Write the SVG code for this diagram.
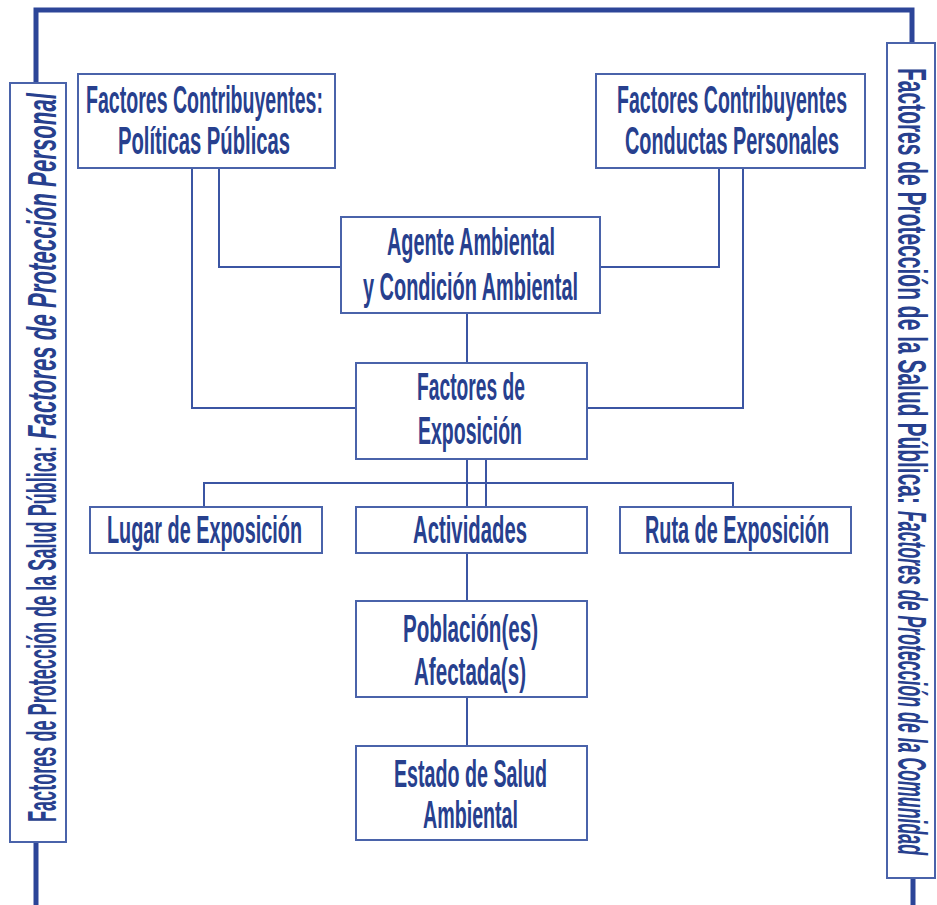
<svg xmlns="http://www.w3.org/2000/svg" width="937" height="905" viewBox="0 0 937 905">
<style>
.box{fill:#fff;stroke:#4a63aa;stroke-width:2}
.t{font-family:"Liberation Sans",Arial,sans-serif;font-weight:bold;font-size:38px;fill:#27408e}
.s{font-family:"Liberation Sans",Arial,sans-serif;font-weight:bold;font-size:41px;fill:#27408e}
.i{font-style:italic}
.c{fill:none;stroke:#3b55a3;stroke-width:2}
.frame{fill:none;stroke:#2c4598;stroke-width:5}
</style>
<rect width="937" height="905" fill="#fff"/>
<g id="frame">
<path class="frame" d="M36,83 V10 H912 V43"/>
<path class="frame" d="M36,842 V905"/>
<path class="frame" d="M913,878 V905"/>
</g>
<g id="connectors">
<path class="c" d="M192,168 V408 H356"/>
<path class="c" d="M219,168 V267 H341"/>
<path class="c" d="M719,168 V267 H600"/>
<path class="c" d="M743,168 V408 H587"/>
<path class="c" d="M467,313 V363"/>
<path class="c" d="M467,459 V507"/>
<path class="c" d="M486,459 V507"/>
<path class="c" d="M204,507 V483 H733 V507"/>
<path class="c" d="M467,553 V601"/>
<path class="c" d="M467,697 V746"/>
</g>
<g id="left-label">
<rect class="box" x="10" y="83" width="56" height="759"/>
<g transform="translate(56,822) rotate(-90)">
<text class="s" x="0" y="0" textLength="376" lengthAdjust="spacingAndGlyphs">Factores de Protección de la Salud Pública:</text>
<text class="s i" x="383" y="0" textLength="346" lengthAdjust="spacingAndGlyphs">Factores de Protección Personal</text>
</g>
</g>
<g id="right-label">
<rect class="box" x="887" y="43" width="48" height="835"/>
<g transform="translate(898,68) rotate(90)">
<text class="s" x="0" y="0" textLength="436" lengthAdjust="spacingAndGlyphs">Factores de Protección de la Salud Pública:</text>
<text class="s i" x="443" y="0" textLength="344" lengthAdjust="spacingAndGlyphs">Factores de Protección de la Comunidad</text>
</g>
</g>
<g id="politicas">
<rect class="box" x="78" y="74" width="257" height="94"/>
<text class="t" x="86" y="113" textLength="237" lengthAdjust="spacingAndGlyphs">Factores Contribuyentes:</text>
<text class="t" x="118" y="154" textLength="172" lengthAdjust="spacingAndGlyphs">Políticas Públicas</text>
</g>
<g id="conductas">
<rect class="box" x="596" y="74" width="269" height="94"/>
<text class="t" x="617" y="113" textLength="230" lengthAdjust="spacingAndGlyphs">Factores Contribuyentes</text>
<text class="t" x="625" y="154" textLength="214" lengthAdjust="spacingAndGlyphs">Conductas Personales</text>
</g>
<g id="agente">
<rect class="box" x="341" y="217" width="259" height="96"/>
<text class="t" x="387" y="255" textLength="168" lengthAdjust="spacingAndGlyphs">Agente Ambiental</text>
<text class="t" x="363" y="300" textLength="215" lengthAdjust="spacingAndGlyphs">y Condición Ambiental</text>
</g>
<g id="exposicion">
<rect class="box" x="356" y="363" width="231" height="96"/>
<text class="t" x="417" y="400" textLength="108" lengthAdjust="spacingAndGlyphs">Factores de</text>
<text class="t" x="418" y="444" textLength="104" lengthAdjust="spacingAndGlyphs">Exposición</text>
</g>
<g id="lugar">
<rect class="box" x="90" y="507" width="232" height="46"/>
<text class="t" x="107" y="543" textLength="195" lengthAdjust="spacingAndGlyphs">Lugar de Exposición</text>
</g>
<g id="actividades">
<rect class="box" x="356" y="507" width="231" height="46"/>
<text class="t" x="413" y="543" textLength="114" lengthAdjust="spacingAndGlyphs">Actividades</text>
</g>
<g id="ruta">
<rect class="box" x="620" y="507" width="231" height="46"/>
<text class="t" x="645" y="543" textLength="184" lengthAdjust="spacingAndGlyphs">Ruta de Exposición</text>
</g>
<g id="poblacion">
<rect class="box" x="356" y="601" width="231" height="96"/>
<text class="t" x="403" y="642" textLength="135" lengthAdjust="spacingAndGlyphs">Población(es)</text>
<text class="t" x="414" y="685" textLength="112" lengthAdjust="spacingAndGlyphs">Afectada(s)</text>
</g>
<g id="estado">
<rect class="box" x="356" y="746" width="231" height="94"/>
<text class="t" x="394" y="787" textLength="153" lengthAdjust="spacingAndGlyphs">Estado de Salud</text>
<text class="t" x="423" y="828" textLength="95" lengthAdjust="spacingAndGlyphs">Ambiental</text>
</g>
</svg>
